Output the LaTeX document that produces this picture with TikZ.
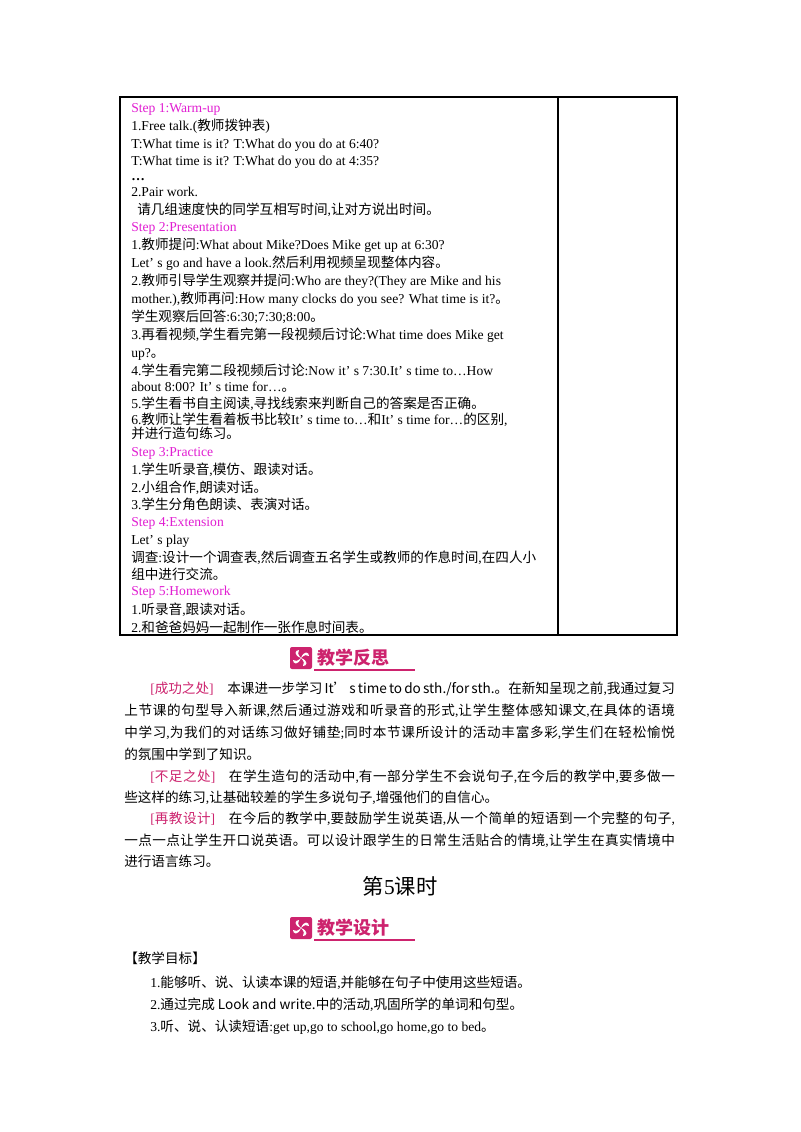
\documentclass[tikz,border=0pt]{standalone}
\usepackage{fontspec}
\setmainfont{Liberation Serif}
\newfontfamily\cjk{Noto Sans CJK SC}
\XeTeXinterchartokenstate=1
\newXeTeXintercharclass\CJKcls
\newcount\cjkcnt
\def\setrange#1#2{\cjkcnt=#1 \loop\XeTeXcharclass\cjkcnt=\CJKcls\ifnum\cjkcnt<#2\advance\cjkcnt1\repeat}
\setrange{"4E00}{"9FFF}\setrange{"3000}{"303F}\setrange{"FF00}{"FFEF}
\XeTeXinterchartoks 0 \CJKcls={\cjk}
\XeTeXinterchartoks 4095 \CJKcls={\cjk}
\XeTeXinterchartoks \CJKcls 0={\rmfamily}
\XeTeXinterchartoks \CJKcls \CJKcls={\hskip0pt plus 2pt}
\definecolor{stepc}{RGB}{225,30,210}
\definecolor{pinkc}{RGB}{205,35,110}
\begin{document}
\begin{tikzpicture}[x=0.75pt,y=-0.75pt,
  t/.style={anchor=base west,inner sep=0,font=\fontsize{10.2}{12}\selectfont},
  st/.style={t,text=stepc},
  bl/.style={draw=black,line width=0.8pt}]
\useasboundingbox (0,0) rectangle (800,1132);
\fill[white] (0,0) rectangle (800,1132);
\draw[bl] (120,97) rectangle (677,635);
\draw[bl] (558,97) -- (558,635);
\def\L#1#2#3{\node[t] at (#1,#2) {#3};}
\node[st] (s1) at (131,112) {Step 1:Warm-up};
\L{131}{130}{1.Free talk.(教师拨钟表)}
\L{131}{148}{T:What time is it? T:What do you do at 6:40?}
\L{131}{165}{T:What time is it? T:What do you do at 4:35?}
\L{131}{180}{\textbf{…}}
\L{131}{196}{2.Pair work.}
\L{137}{214}{请几组速度快的同学互相写时间,让对方说出时间。}
\node[st] (s2) at (131,231) {Step 2:Presentation};
\L{131}{249}{1.教师提问:What about Mike?Does Mike get up at 6:30?}
\L{131}{267}{Let’ s go and have a look.然后利用视频呈现整体内容。}
\L{131}{285}{2.教师引导学生观察并提问:Who are they?(They are Mike and his}
\L{131}{303}{mother.),教师再问:How many clocks do you see? What time is it?。}
\L{131}{321}{学生观察后回答:6:30;7:30;8:00。}
\L{131}{339}{3.再看视频,学生看完第一段视频后讨论:What time does Mike get}
\L{131}{357}{up?。}
\L{131}{375}{4.学生看完第二段视频后讨论:Now it’ s 7:30.It’ s time to…How}
\L{131}{391}{about 8:00? It’ s time for…。}
\L{131}{408}{5.学生看书自主阅读,寻找线索来判断自己的答案是否正确。}
\L{131}{424}{6.教师让学生看着板书比较It’ s time to…和It’ s time for…的区别,}
\L{131}{438}{并进行造句练习。}
\node[st] (s3) at (131,456) {Step 3:Practice};
\L{131}{474}{1.学生听录音,模仿、跟读对话。}
\L{131}{492}{2.小组合作,朗读对话。}
\L{131}{509}{3.学生分角色朗读、表演对话。}
\node[st] (s4) at (131,526) {Step 4:Extension};
\L{131}{544}{Let’ s play}
\L{131}{562}{调查:设计一个调查表,然后调查五名学生或教师的作息时间,在四人小}
\L{131}{579}{组中进行交流。}
\node[st] (s5) at (131,595) {Step 5:Homework};
\L{131}{614}{1.听录音,跟读对话。}
\L{131}{632}{2.和爸爸妈妈一起制作一张作息时间表。}
% banners
\def\banner#1#2#3#4{%
  \fill[pinkc,rounded corners=1.5pt] (#1,#2-11) rectangle (#1+22,#2+11);
  \begin{scope}[shift={(#1+11,#2)}]
    \foreach \a in {0,90,180,270}{\fill[white,rotate=\a] (0,0) .. controls (3,-8) and (8,-6) .. (8,-2) .. controls (6,-4) and (3,-3) .. (0,0);}
  \end{scope}
  \node[anchor=west,inner sep=0,text=pinkc,font={\fontsize{13.5}{14}\selectfont}] (#4) at (#1+27,#2) {\XeTeXinterchartokenstate=0 \cjk\bfseries #3};
  \draw[pinkc,line width=0.8pt] (#1+24,#2+12) -- (#1+125,#2+12);}
\banner{290}{658}{教学反思}{b1}
% paragraph lines
\def\J#1#2#3#4{\node[t] at (#1,#2) {\makebox[#3][s]{#4}};}
\J{150}{693}{393.5pt}{\textcolor{pinkc}{[成功之处]}\quad 本课进一步学习 It’ s time to do sth./for sth.。在新知呈现之前,我通过复习}
\J{124}{715}{413pt}{上节课的句型导入新课,然后通过游戏和听录音的形式,让学生整体感知课文,在具体的语境}
\J{124}{737}{413pt}{中学习,为我们的对话练习做好铺垫;同时本节课所设计的活动丰富多彩,学生们在轻松愉悦}
\L{124}{759}{的氛围中学到了知识。}
\J{150}{781}{393.5pt}{\textcolor{pinkc}{[不足之处]}\quad 在学生造句的活动中,有一部分学生不会说句子,在今后的教学中,要多做一}
\L{124}{802}{些这样的练习,让基础较差的学生多说句子,增强他们的自信心。}
\J{150}{823}{393.5pt}{\textcolor{pinkc}{[再教设计]}\quad 在今后的教学中,要鼓励学生说英语,从一个简单的短语到一个完整的句子,}
\J{124}{845}{413pt}{一点一点让学生开口说英语。可以设计跟学生的日常生活贴合的情境,让学生在真实情境中}
\L{124}{866}{进行语言练习。}
\node[inner sep=0,font=\fontsize{16}{18}\selectfont] (h) at (400,886) {第5课时};
\banner{290}{928}{教学设计}{b2}
\L{124}{963}{【教学目标】}
\L{150}{987}{1.能够听、说、认读本课的短语,并能够在句子中使用这些短语。}
\L{150}{1009}{2.通过完成 Look and write.中的活动,巩固所学的单词和句型。}
\L{150}{1031}{3.听、说、认读短语:get up,go to school,go home,go to bed。}
\end{tikzpicture}
\end{document}
